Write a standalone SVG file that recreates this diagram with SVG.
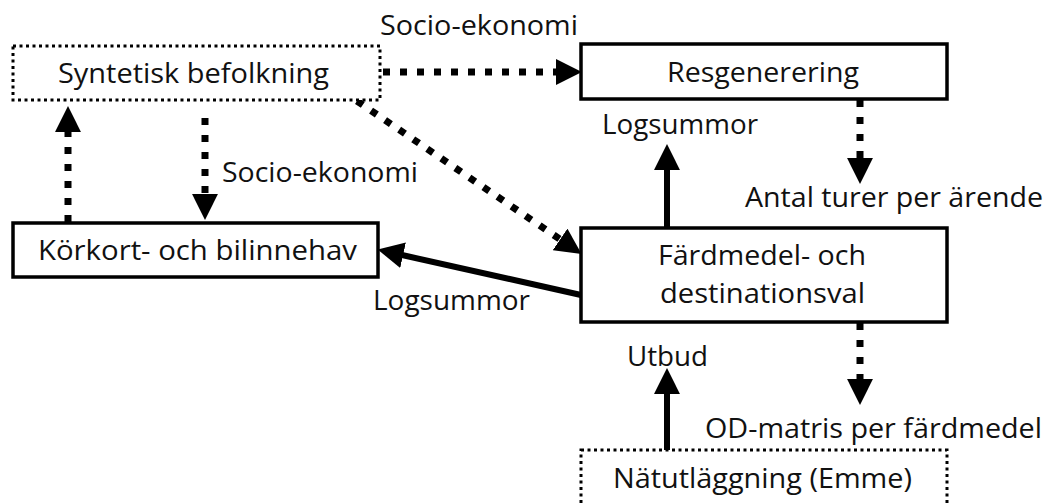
<svg xmlns="http://www.w3.org/2000/svg" width="1050" height="503" viewBox="0 0 1050 503">
<style>
  .box{fill:#fff;stroke:#000;stroke-width:3.5}
  .dotbox{fill:#fff;stroke:#000;stroke-width:3;stroke-dasharray:3 3.5}
  .t{font-family:"Open Sans","Liberation Sans",Arial,sans-serif;font-size:28px;fill:#111}
  .dash{fill:none;stroke:#000;stroke-width:7;stroke-dasharray:7 10}
  .solid{fill:none;stroke:#000;stroke-width:6}
</style>
<defs>
  <marker id="ah" markerUnits="userSpaceOnUse" markerWidth="26" markerHeight="26" viewBox="0 0 24 24" refX="1" refY="12" orient="auto">
    <path d="M0,0 L24,12 L0,24 z" fill="#000"/>
  </marker>
</defs>
<rect width="1050" height="503" fill="#fff"/>
<g id="connectors">
  <line class="dash" x1="383" y1="72" x2="557" y2="72" marker-end="url(#ah)"/>
  <line class="dash" x1="357" y1="101" x2="561" y2="240" marker-end="url(#ah)"/>
  <line class="dash" x1="860" y1="100" x2="860" y2="159" marker-end="url(#ah)"/>
  <line class="solid" x1="667" y1="228" x2="667" y2="169" marker-end="url(#ah)"/>
  <line class="solid" x1="581" y1="295" x2="402" y2="255" marker-end="url(#ah)"/>
  <line class="dash" x1="860" y1="323" x2="860" y2="380" marker-end="url(#ah)"/>
  <line class="solid" x1="667" y1="450" x2="667" y2="393" marker-end="url(#ah)"/>
  <line class="dash" x1="68" y1="222" x2="68" y2="131" marker-end="url(#ah)"/>
  <line class="dash" x1="205" y1="118" x2="205" y2="195" marker-end="url(#ah)"/>
  <text class="t" x="380" y="35" textLength="198" lengthAdjust="spacingAndGlyphs">Socio-ekonomi</text>
  <text class="t" x="222" y="182" textLength="196" lengthAdjust="spacingAndGlyphs">Socio-ekonomi</text>
  <text class="t" x="602" y="134" textLength="156" lengthAdjust="spacingAndGlyphs">Logsummor</text>
  <text class="t" x="373" y="310" textLength="157" lengthAdjust="spacingAndGlyphs">Logsummor</text>
  <text class="t" x="745" y="207" textLength="298" lengthAdjust="spacingAndGlyphs">Antal turer per ärende</text>
  <text class="t" x="627" y="366" textLength="81" lengthAdjust="spacingAndGlyphs">Utbud</text>
  <text class="t" x="705" y="438" textLength="337" lengthAdjust="spacingAndGlyphs">OD-matris per färdmedel</text>
</g>
<g id="syntetisk">
  <rect class="dotbox" x="13" y="46" width="367" height="54"/>
  <text class="t" x="58" y="83" textLength="271" lengthAdjust="spacingAndGlyphs">Syntetisk befolkning</text>
</g>
<g id="resgenerering">
  <rect class="box" x="581" y="44" width="366" height="55"/>
  <text class="t" x="667" y="82" textLength="192" lengthAdjust="spacingAndGlyphs">Resgenerering</text>
</g>
<g id="korkort">
  <rect class="box" x="13" y="223" width="365" height="54"/>
  <text class="t" x="38" y="260" textLength="319" lengthAdjust="spacingAndGlyphs">Körkort- och bilinnehav</text>
</g>
<g id="fardmedel">
  <rect class="box" x="581" y="228" width="366" height="94"/>
  <text class="t" x="658" y="265" textLength="208" lengthAdjust="spacingAndGlyphs">Färdmedel- och</text>
  <text class="t" x="660" y="303" textLength="205" lengthAdjust="spacingAndGlyphs">destinationsval</text>
</g>
<g id="natutlaggning">
  <rect class="dotbox" x="581" y="450" width="366" height="70"/>
  <text class="t" x="613" y="488" textLength="299" lengthAdjust="spacingAndGlyphs">Nätutläggning (Emme)</text>
</g>
</svg>
